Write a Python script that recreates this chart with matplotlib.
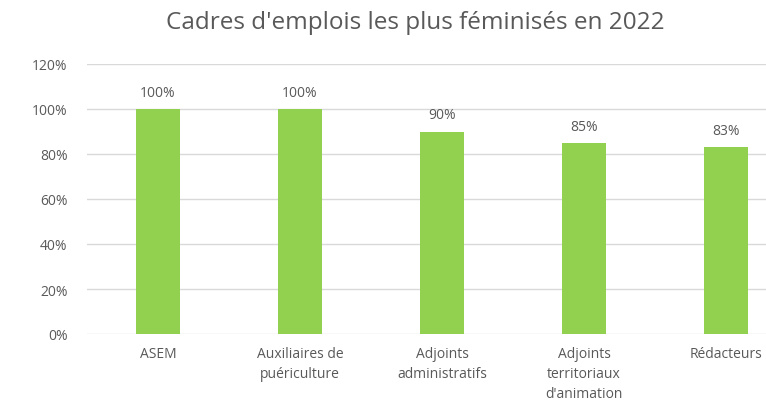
import matplotlib.pyplot as plt
import numpy as np

categories = ["ASEM", "Auxiliaires de\npuériculture", "Adjoints\nadministratifs",
              "Adjoints\nterritoriaux\nd'animation", "Rédacteurs"]
values = [100, 100, 90, 85, 83]
yticks = [0, 20, 40, 60, 80, 100, 120]

plt.rcParams['font.family'] = ['Open Sans', 'DejaVu Sans']
grey = '#595959'

fig = plt.figure(figsize=(7.66, 4.14), dpi=100)
# chart is cropped on the right in the reference, so the axes run past the figure edge
ax = fig.add_axes([87 / 766, 1 - 335 / 414, 710 / 766, 270 / 414])

x = np.arange(len(categories))
ax.bar(x, values, width=0.31, color='#92D050', zorder=3)
for xi, v in zip(x, values):
    ax.text(xi, v + 4, f"{v}%", ha='center', va='bottom', fontsize=10, color=grey)

ax.set_xlim(-0.5, len(categories) - 0.5)
ax.set_ylim(0, 120)
ax.set_yticks(yticks)
ax.set_yticklabels([f"{t}%" for t in yticks], fontsize=10, color=grey)
ax.set_xticks(x)
ax.set_xticklabels(categories, fontsize=10, color=grey, linespacing=1.45)
ax.tick_params(length=0)
ax.tick_params(axis='x', pad=9)
ax.tick_params(axis='y', pad=14)
ax.grid(axis='y', color='#D9D9D9', linewidth=1, zorder=0)
for s in ax.spines.values():
    s.set_visible(False)

fig.text(415 / 766, 1 - 23 / 414, "Cadres d'emplois les plus féminisés en 2022",
         ha='center', va='center', fontsize=17.5, color=grey)

fig.savefig('out.png', dpi=100)
